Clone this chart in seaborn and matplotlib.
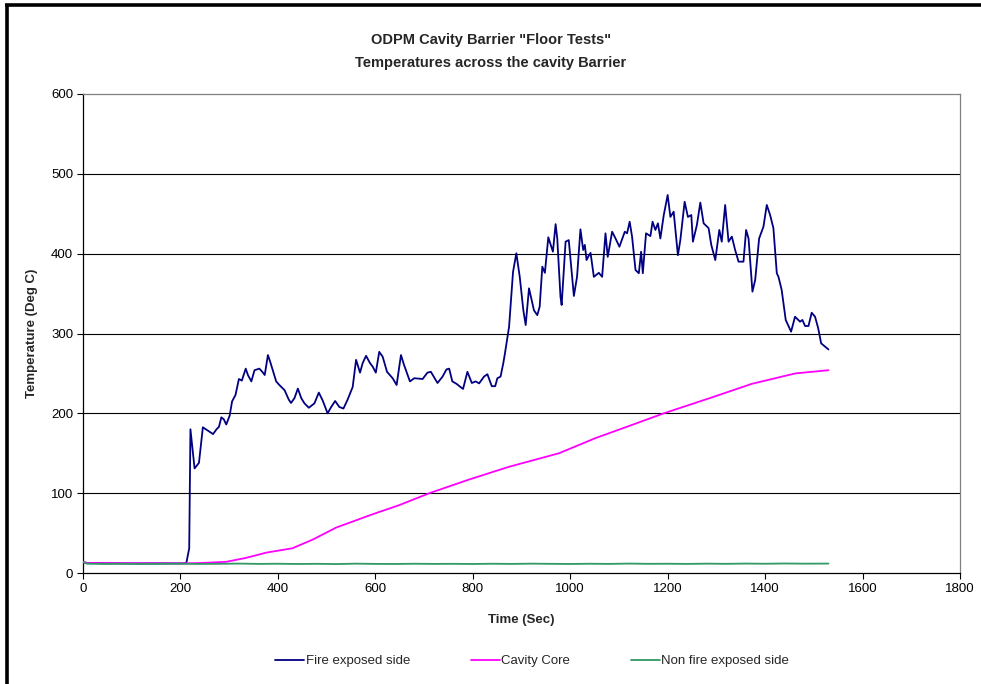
import matplotlib
matplotlib.use("Agg")
import matplotlib.pyplot as plt
from matplotlib.lines import Line2D
import numpy as np
import pandas as pd
import seaborn as sns

# ---- data -------------------------------------------------------------
fire_time = [0, 10, 50, 100, 150, 200, 212, 218, 220.5, 229, 238, 246, 257,
             267, 274, 279, 284, 289, 294, 301, 306, 313, 320, 326, 334, 338.5,
             345.5, 352, 362, 368, 373, 379.5, 384, 396.5, 403, 413.7, 422.5,
             427, 434, 441, 448, 454.6, 463.5, 475, 484, 492, 502, 509, 517.5,
             526, 534.5, 543, 553.5, 560.5, 568.6, 574, 581, 589, 594.5, 601,
             608, 615, 624, 635.5, 643.7, 652.6, 659, 671, 680, 697, 707, 714,
             727.6, 738, 746, 751.5, 758, 766.5, 780, 789, 798, 806, 813, 823,
             830, 839, 846, 850.5, 857, 862.7, 866, 874.5, 882.6, 889.4, 896.4,
             903.8, 908.6, 915.4, 925.6, 932.4, 937.3, 942.7, 948, 955, 964.5,
             970, 973.4, 980, 982.4, 990.5, 997, 1007.5, 1014, 1021, 1026.6,
             1030, 1033.5, 1036.8, 1041.7, 1048.5, 1058.7, 1065.5, 1072.4, 1077,
             1086, 1093, 1101, 1106.4, 1112, 1116.7, 1122, 1127, 1134, 1140.8,
             1145.5, 1149, 1155.6, 1164.6, 1169, 1174.8, 1180, 1185, 1192, 1200,
             1205.6, 1212.3, 1221, 1226, 1234.8, 1241.6, 1248.5, 1251.8, 1260,
             1267, 1273.8, 1284, 1289.5, 1297.7, 1306, 1311, 1318, 1325, 1331.7,
             1338.5, 1345.5, 1355.6, 1361, 1366, 1374, 1379.6, 1387.7, 1396.6,
             1403.4, 1410.3, 1417, 1424, 1427.4, 1434, 1442.3, 1453.3, 1461.4,
             1471.7, 1476.5, 1482, 1489, 1495.6, 1502.5, 1509, 1515, 1523, 1530]
fire_temp = [13.5, 12.5, 12.2, 12.0, 12.1, 12.0, 12.2, 31, 180, 131, 138, 182.5, 178,
             174, 180, 183, 195, 192.5, 186, 197, 215, 223, 243, 241, 256, 248,
             240, 254, 256, 252, 248, 273, 265, 240, 235.5, 229, 217,
             213, 219, 231, 219, 212.5, 207, 212.5, 226, 216, 200, 207.5, 215.5,
             208, 206, 217, 233, 267, 251, 263, 272, 263, 258.5, 251,
             277, 271, 252, 244, 235.5, 273, 260.5, 240, 244, 243, 251, 252,
             238, 246, 255, 256, 240, 237, 230.5, 252, 238, 240, 237.5, 246,
             249, 234, 234, 244, 246, 263, 275, 308.5, 377, 400.5, 371,
             329, 310.6, 356.6, 329, 323, 333.6, 383.7, 376, 420.5, 402.5,
             437, 419, 346, 335.7, 415, 417, 347, 371, 430.5, 404.6,
             411, 392, 396, 401, 371, 376, 371, 425.5, 396,
             427.5, 419, 408.7, 418, 427.5, 425.5, 440, 421, 379.5, 375.5,
             402.5, 375.5, 425.5, 422, 440, 429.7, 438, 419, 448.4, 473.5,
             446, 452.6, 398, 417, 465, 446, 448.4, 415, 436,
             464, 438, 432, 411, 392, 429.7, 415, 461, 415, 421.4,
             404.6, 390, 390, 429.7, 419, 352.4, 367, 419, 433.8,
             461, 448.4, 432, 375.5, 371, 354.5, 317, 302.3, 321,
             314.8, 317, 309.4, 309.4, 326, 321, 306.5, 287.7, 283.5, 280]

core_time = [0, 10, 100, 200, 240, 294, 335, 376, 430, 472, 520, 594, 649, 711,
             792, 874, 977, 1052, 1120, 1192, 1291, 1373, 1462, 1530]
core_temp = [13.5, 12.5, 12.2, 12.0, 12.5, 14, 19, 25.5, 31, 42, 57, 73.5, 85, 100,
             117, 133, 150, 169, 184, 200, 220, 237, 250, 254]

cold_time = [0, 8, 40, 80, 120, 160, 200, 240, 280, 320, 360, 400, 440, 480, 520,
             560, 600, 640, 680, 720, 760, 800, 840, 880, 920, 960, 1000, 1040,
             1080, 1120, 1160, 1200, 1240, 1280, 1320, 1360, 1400, 1440, 1480,
             1530]
cold_temp = [14.0, 11.6, 11.3, 11.5, 11.2, 11.4, 11.6, 11.3, 11.5, 11.8, 11.4, 11.6,
             11.3, 11.5, 11.2, 11.7, 11.4, 11.3, 11.6, 11.4, 11.5, 11.3, 11.6, 11.4,
             11.7, 11.5, 11.3, 11.6, 11.4, 11.8, 11.5, 11.6, 11.4, 11.7, 11.5, 11.8,
             11.6, 11.9, 11.7, 11.8]

series_names = ["Fire exposed side", "Cavity Core", "Non fire exposed side"]
series_colors = ["#000080", "#FF00FF", "#339966"]

title_lines = ['ODPM Cavity Barrier "Floor Tests"',
               "Temperatures across the cavity Barrier"]
x_label = "Time (Sec)"
y_label = "Temperature (Deg C)"
x_ticks = list(range(0, 1801, 200))
y_ticks = list(range(0, 601, 100))

# ---- long-format table for seaborn -------------------------------------
frames = []
for name, t, v in zip(series_names,
                      [fire_time, core_time, cold_time],
                      [fire_temp, core_temp, cold_temp]):
    frames.append(pd.DataFrame({"time": t, "temp": v, "series": name}))
df = pd.concat(frames, ignore_index=True)

# ---- figure -------------------------------------------------------------
sns.set_theme(style="white")
plt.rcParams["font.family"] = ["Liberation Sans", "DejaVu Sans"]

W, H = 981, 684
fig = plt.figure(figsize=(W / 100, H / 100), dpi=100)
fig.patch.set_facecolor("white")

ax_l, ax_r, ax_t, ax_b = 83, 960, 94, 573
ax = fig.add_axes([ax_l / W, 1 - ax_b / H, (ax_r - ax_l) / W, (ax_b - ax_t) / H])
ax.set_facecolor("white")

# gridlines behind the series
for yv in y_ticks[1:-1]:
    ax.axhline(yv, color="#000000", lw=0.8, zorder=1)

sns.lineplot(data=df, x="time", y="temp", hue="series",
             hue_order=series_names, palette=series_colors,
             estimator=None, sort=False, lw=1.3, ax=ax, zorder=3,
             legend=True)

ax.set_xlim(0, 1800)
ax.set_ylim(0, 600)
ax.set_xticks(x_ticks)
ax.set_yticks(y_ticks)
ax.set_xlabel("")
ax.set_ylabel("")
ax.tick_params(axis="both", which="major", direction="out", length=4,
               width=0.8, color="black", labelsize=9.5, labelcolor="black",
               bottom=True, left=True, top=False, right=False, pad=3)

for side in ("left", "bottom"):
    ax.spines[side].set_color("black")
    ax.spines[side].set_linewidth(0.9)
for side in ("top", "right"):
    ax.spines[side].set_color("#808080")
    ax.spines[side].set_linewidth(0.9)
    ax.spines[side].set_visible(True)

# titles and axis captions
fig.text(491 / W, 1 - 40 / H, title_lines[0], ha="center", va="center",
         fontsize=10.5, fontweight="bold")
fig.text(491 / W, 1 - 63 / H, title_lines[1], ha="center", va="center",
         fontsize=10.5, fontweight="bold")
fig.text(521 / W, 1 - 620 / H, x_label, ha="center", va="center",
         fontsize=9.5, fontweight="bold")
fig.text(32 / W, 1 - 333 / H, y_label, ha="center", va="center",
         rotation=90, fontsize=9.5, fontweight="bold")

# legend along the bottom
handles, labels = ax.get_legend_handles_labels()
ax.get_legend().remove()
fig.legend(handles, labels, loc="center", ncol=3,
           bbox_to_anchor=(532 / W, 1 - 661 / H), frameon=False,
           fontsize=9.5, handlelength=2.2, handletextpad=0.1,
           columnspacing=4.6)

# outer chart border (top and left edges)
fig.add_artist(Line2D([6.5 / W, 6.5 / W], [0, 1 - 4.5 / H], color="black",
                      lw=2.6, transform=fig.transFigure, solid_capstyle="butt"))
fig.add_artist(Line2D([5 / W, 1], [1 - 4.5 / H, 1 - 4.5 / H], color="black",
                      lw=2.6, transform=fig.transFigure, solid_capstyle="butt"))

fig.savefig("out.png", dpi=100, facecolor="white")
